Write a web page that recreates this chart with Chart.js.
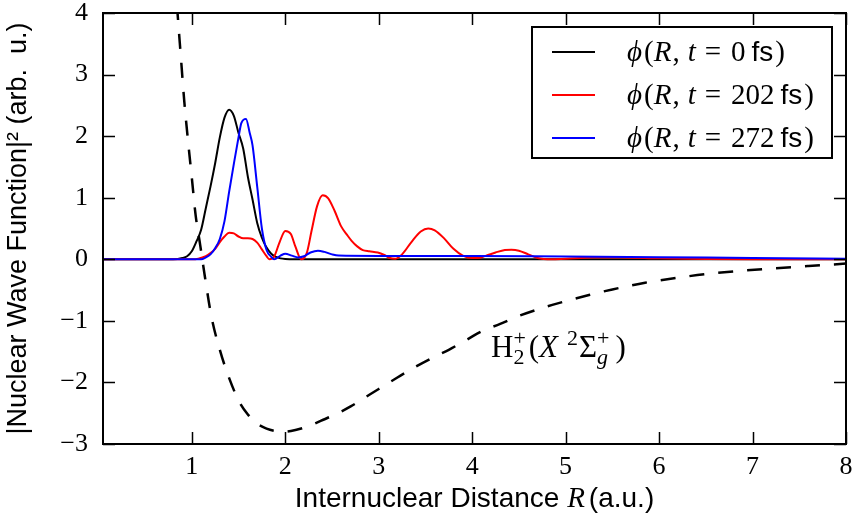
<!DOCTYPE html>
<html>
<head>
<meta charset="utf-8">
<script src="https://cdn.jsdelivr.net/npm/chart.js@4/dist/chart.umd.min.js"></script>
<style>
  html, body { margin: 0; padding: 0; background: #ffffff; }
  canvas { display: block; }
</style>
</head>
<body>
<canvas id="chart" width="853" height="527"></canvas>
<script>
// Axis ticks
const xTickValues = [1, 2, 3, 4, 5, 6, 7, 8];
const yTickValues = [-3, -2, -1, 0, 1, 2, 3, 4];

// |phi(R, t = 0 fs)|^2
const rT0 = [0.05, 0.8, 0.9, 0.95, 1.0, 1.05, 1.1, 1.15, 1.2, 1.25, 1.3, 1.35, 1.4, 1.45, 1.5, 1.55, 1.6, 1.65, 1.7, 1.75, 1.8, 1.85, 1.9, 1.95, 2.0, 2.1, 8.0];
const psiT0 = [0, 0, 0.02, 0.05, 0.13, 0.29, 0.48, 0.83, 1.18, 1.56, 1.98, 2.30, 2.43, 2.33, 2.05, 1.80, 1.34, 0.97, 0.59, 0.35, 0.19, 0.09, 0.04, 0.015, 0.005, 0, 0];

// |phi(R, t = 202 fs)|^2
const rT202 = [0.05, 1.0, 1.07, 1.15, 1.2, 1.25, 1.3, 1.35, 1.4, 1.45, 1.5, 1.55, 1.6, 1.65, 1.7, 1.75, 1.8, 1.83, 1.88, 1.94, 2.0, 2.06, 2.11, 2.17, 2.23, 2.28, 2.34, 2.4, 2.46, 2.53, 2.6, 2.66, 2.71, 2.77, 2.83, 2.9, 2.99, 3.06, 3.12, 3.18, 3.25, 3.35, 3.45, 3.53, 3.6, 3.7, 3.8, 3.9, 4.0, 4.06, 4.15, 4.25, 4.35, 4.42, 4.5, 4.6, 4.7, 4.85, 5.0, 5.3, 5.6, 6.0, 6.5, 7.0, 8.0];
const psiT202 = [0, 0, 0.01, 0.05, 0.10, 0.17, 0.28, 0.37, 0.43, 0.42, 0.37, 0.34, 0.34, 0.33, 0.27, 0.16, 0.05, 0, 0.04, 0.28, 0.46, 0.41, 0.20, 0, 0.10, 0.45, 0.86, 1.04, 0.99, 0.78, 0.53, 0.40, 0.30, 0.21, 0.15, 0.13, 0.11, 0.07, 0.02, 0.01, 0.08, 0.28, 0.45, 0.50, 0.47, 0.34, 0.17, 0.06, 0.02, 0.02, 0.06, 0.11, 0.15, 0.155, 0.14, 0.08, 0.02, 0, 0.01, 0.03, 0.03, 0.015, 0.005, 0, 0];

// |phi(R, t = 272 fs)|^2
const rT272 = [0.05, 1.1, 1.15, 1.2, 1.25, 1.3, 1.35, 1.4, 1.45, 1.5, 1.53, 1.58, 1.62, 1.65, 1.7, 1.75, 1.8, 1.85, 1.88, 1.95, 2.0, 2.07, 2.14, 2.2, 2.27, 2.35, 2.42, 2.5, 2.57, 3.0, 4.0, 5.0, 6.0, 7.0, 8.0];
const psiT272 = [0, 0, 0.03, 0.08, 0.18, 0.33, 0.62, 1.10, 1.55, 1.98, 2.21, 2.28, 2.05, 1.85, 1.18, 0.50, 0.15, 0.04, 0, 0.06, 0.09, 0.06, 0.03, 0.05, 0.11, 0.14, 0.12, 0.08, 0.06, 0.055, 0.055, 0.045, 0.035, 0.02, 0.01];

// H2+ ground-state potential curve (scaled)
const rPot = [0.82, 0.85, 0.88, 0.92, 0.96, 1.0, 1.04, 1.09, 1.14, 1.21, 1.30, 1.40, 1.51, 1.6, 1.7, 1.8, 1.9, 2.0, 2.12, 2.25, 2.4, 2.55, 2.7, 2.9, 3.05, 3.2, 3.4, 3.6, 3.75, 3.95, 4.1, 4.3, 4.5, 4.75, 5.0, 5.25, 5.5, 5.85, 6.2, 6.5, 6.85, 7.2, 7.6, 8.0];
const vPot = [4.6, 3.95, 3.35, 2.56, 1.92, 1.33, 0.73, 0.23, -0.28, -0.93, -1.47, -1.93, -2.32, -2.52, -2.67, -2.75, -2.79, -2.80, -2.77, -2.71, -2.61, -2.51, -2.39, -2.20, -2.06, -1.92, -1.74, -1.58, -1.47, -1.30, -1.17, -1.05, -0.92, -0.79, -0.68, -0.58, -0.49, -0.38, -0.30, -0.24, -0.19, -0.15, -0.11, -0.07];

const legendTimes = ['0', '202', '272'];
const legendColors = ['#000000', '#ff0000', '#0000ff'];

const SERIF = '"Liberation Serif", "DejaVu Serif", serif';
const SANS = '"Liberation Sans", "DejaVu Sans", sans-serif';

function pts(xs, ys) { return xs.map((x, i) => ({ x: x, y: ys[i] })); }

// Draw a run of text pieces with differing fonts / offsets
function drawRich(ctx, x, y, parts) {
  ctx.save();
  ctx.textBaseline = 'alphabetic';
  ctx.textAlign = 'left';
  ctx.fillStyle = '#000';
  for (const p of parts) {
    if (p.gap) { x += p.gap; continue; }
    if (p.stack) {
      let w = 0;
      for (const s of p.stack) {
        ctx.font = s.font;
        ctx.fillText(s.t, x, y + (s.dy || 0));
        w = Math.max(w, ctx.measureText(s.t).width);
      }
      x += w;
      continue;
    }
    ctx.font = p.font;
    ctx.fillText(p.t, x, y + (p.dy || 0));
    x += ctx.measureText(p.t).width;
  }
  ctx.restore();
  return x;
}
function richWidth(ctx, parts) {
  let w = 0;
  ctx.save();
  for (const p of parts) {
    if (p.gap) { w += p.gap; continue; }
    if (p.stack) {
      let m = 0;
      for (const s of p.stack) { ctx.font = s.font; m = Math.max(m, ctx.measureText(s.t).width); }
      w += m; continue;
    }
    ctx.font = p.font; w += ctx.measureText(p.t).width;
  }
  ctx.restore();
  return w;
}

const F = 29;
const fSerif = F + 'px ' + SERIF;
const fItal = 'italic ' + F + 'px ' + SERIF;
const fSans = '28px ' + SANS;
const fLbl = '31px ' + SERIF;
const fLblItal = 'italic 31px ' + SERIF;
const fSmall = '22px ' + SERIF;
const fSmallItal = 'italic 22px ' + SERIF;

const noPad = (s) => { s.paddingTop = 0; s.paddingBottom = 0; s.paddingLeft = 0; s.paddingRight = 0; };

const framePlugin = {
  id: 'frameAndTicks',
  afterDatasetsDraw(chart) {
    const { ctx, chartArea: a, scales } = chart;
    ctx.save();
    ctx.strokeStyle = '#000';
    ctx.lineWidth = 1.5;
    const L = 12;
    ctx.beginPath();
    for (const v of xTickValues) {
      const px = Math.round(scales.x.getPixelForValue(v)) + 0.5;
      ctx.moveTo(px, a.bottom); ctx.lineTo(px, a.bottom - L);
      ctx.moveTo(px, a.top); ctx.lineTo(px, a.top + L);
    }
    for (const v of yTickValues) {
      const py = Math.round(scales.y.getPixelForValue(v)) + 0.5;
      ctx.moveTo(a.left, py); ctx.lineTo(a.left + L, py);
      ctx.moveTo(a.right, py); ctx.lineTo(a.right - L, py);
    }
    ctx.stroke();
    ctx.lineWidth = 2;
    ctx.strokeRect(a.left, a.top, a.right - a.left, a.bottom - a.top);
    ctx.restore();
  },
  afterDraw(chart) {
    const { ctx, scales } = chart;
    // curve label for the potential
    drawRich(ctx, 491, 357, [
      { t: 'H', font: fLbl },
      { stack: [{ t: '2', font: fSmall, dy: 7 }, { t: '+', font: fSmall, dy: -12 }] },
      { gap: 3 },
      { t: '(', font: fLbl },
      { t: 'X', font: fLblItal },
      { gap: 9 },
      { t: '2', font: fSmall, dy: -12 },
      { gap: 1 },
      { t: 'Σ', font: fLbl },
      { stack: [{ t: 'g', font: fSmallItal, dy: 7 }, { t: '+', font: fSmall, dy: -12 }] },
      { gap: 6 },
      { t: ')', font: fLbl }
    ]);

    // legend
    const bx = 532, by = 27, bw = 300, bh = 131;
    ctx.save();
    ctx.fillStyle = '#fff';
    ctx.fillRect(bx, by, bw, bh);
    ctx.strokeStyle = '#000';
    ctx.lineWidth = 2;
    ctx.strokeRect(bx, by, bw, bh);
    const rows = [52, 95, 138];
    rows.forEach((ry, i) => {
      ctx.strokeStyle = legendColors[i];
      ctx.lineWidth = 2;
      ctx.beginPath();
      ctx.moveTo(552, ry); ctx.lineTo(595, ry);
      ctx.stroke();
      drawRich(ctx, 627, ry + 9, [
        { t: 'ϕ', font: fItal },
        { gap: 2 },
        { t: '(', font: fSerif },
        { t: 'R', font: fItal },
        { gap: 1 },
        { t: ',', font: fSerif },
        { gap: 8 },
        { t: 't', font: fItal },
        { gap: 9 },
        { t: '=', font: fSerif },
        { gap: 10 },
        { t: legendTimes[i], font: fSerif },
        { gap: 6 },
        { t: 'fs', font: fSans },
        { gap: 2 },
        { t: ')', font: fSerif }
      ]);
    });
    ctx.restore();

    // x axis title
    const xParts = [
      { t: 'Internuclear Distance ', font: '28px ' + SANS },
      { t: 'R', font: 'italic 29px ' + SERIF },
      { gap: 4 },
      { t: '(a.u.)', font: '28px ' + SANS }
    ];
    const cx = (scales.x.left + scales.x.right) / 2;
    const w = richWidth(ctx, xParts);
    drawRich(ctx, cx - w / 2, 507, xParts);
  }
};

new Chart(document.getElementById('chart'), {
  type: 'line',
  data: {
    datasets: [
      { label: 't = 272 fs', data: pts(rT272, psiT272), borderColor: '#0000ff', borderWidth: 2, order: 1 },
      { label: 't = 202 fs', data: pts(rT202, psiT202), borderColor: '#ff0000', borderWidth: 2, order: 2 },
      { label: 't = 0 fs', data: pts(rT0, psiT0), borderColor: '#000000', borderWidth: 2, order: 3 },
      { label: 'potential', data: pts(rPot, vPot), borderColor: '#000000', borderWidth: 2.5, borderDash: [15, 14], order: 4 }
    ]
  },
  options: {
    responsive: false,
    animation: false,
    devicePixelRatio: 1,
    layout: { padding: { top: 13, right: 7, left: 0, bottom: 0 } },
    elements: {
      point: { radius: 0 },
      line: { cubicInterpolationMode: 'monotone', fill: false }
    },
    plugins: { legend: { display: false }, tooltip: { enabled: false } },
    scales: {
      x: {
        type: 'linear',
        min: 0.05, max: 8,
        afterBuildTicks: (s) => { s.ticks = xTickValues.map(v => ({ value: v })); },
        afterFit: (s) => { s.height = 83; noPad(s); },
        grid: { display: false, drawTicks: false },
        border: { display: false },
        ticks: { color: '#000', font: { family: SERIF, size: 26 }, padding: 8, maxRotation: 0, autoSkip: false },
        title: { display: false }
      },
      y: {
        type: 'linear',
        min: -3, max: 4,
        afterBuildTicks: (s) => { s.ticks = yTickValues.map(v => ({ value: v })); },
        afterFit: (s) => { s.width = 103; noPad(s); },
        grid: { display: false, drawTicks: false },
        border: { display: false },
        ticks: {
          color: '#000', font: { family: SERIF, size: 26 }, padding: 15,
          callback: (v) => (v < 0 ? '\u2212' + Math.abs(v) : String(v))
        },
        title: {
          display: true,
          text: '|Nuclear Wave Function|\u00b2 (arb.  u.)',
          color: '#000',
          font: { family: SANS, size: 27 },
          padding: { top: 2, bottom: 0 }
        }
      }
    }
  },
  plugins: [framePlugin]
});
</script>
</body>
</html>
